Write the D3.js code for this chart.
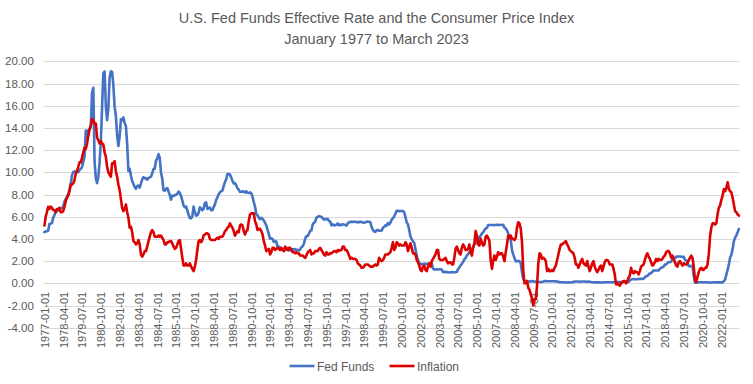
<!DOCTYPE html>
<html>
<head>
<meta charset="utf-8">
<script src="https://cdn.jsdelivr.net/npm/d3@7"></script>
<style>
  html, body { margin: 0; padding: 0; background: #fff; }
  svg { display: block; }
  text { font-family: "Liberation Sans", Arial, sans-serif; fill: #595959; }
</style>
</head>
<body>
<svg id="chart" width="753" height="384"></svg>
<script>
// ---------- DATA ----------
const startYear = 1977;           // first month: January 1977
const titleLines = ["U.S. Fed Funds Effective Rate and the Consumer Price Index", "January 1977 to March 2023"];
const seriesNames = ["Fed Funds", "Inflation"];

const fedFunds = [
  // 1977
  4.61, 4.68, 4.69, 4.73, 5.35, 5.39, 5.42, 5.90, 6.14, 6.47, 6.51, 6.56,
  // 1978
  6.70, 6.78, 6.79, 6.89, 7.36, 7.60, 7.81, 8.04, 8.45, 8.96, 9.76, 10.03,
  // 1979
  10.07, 10.06, 10.09, 10.01, 10.24, 10.29, 10.47, 10.94, 11.43, 13.77, 13.18, 13.78,
  // 1980
  13.82, 14.13, 17.19, 17.61, 10.98, 9.47, 9.03, 9.61, 10.87, 12.81, 15.85, 18.90,
  // 1981
  19.08, 15.93, 14.70, 15.72, 18.52, 19.10, 19.04, 17.82, 15.87, 15.08, 13.31, 12.37,
  // 1982
  13.22, 14.78, 14.68, 14.94, 14.45, 14.15, 12.59, 10.12, 10.31, 9.71, 9.20, 8.95,
  // 1983
  8.68, 8.51, 8.77, 8.80, 8.63, 8.98, 9.37, 9.56, 9.45, 9.48, 9.34, 9.47,
  // 1984
  9.56, 9.59, 9.91, 10.29, 10.32, 11.06, 11.23, 11.64, 11.30, 9.99, 9.43, 8.38,
  // 1985
  8.35, 8.50, 8.58, 8.27, 7.97, 7.53, 7.88, 7.90, 7.92, 7.99, 8.05, 8.27,
  // 1986
  8.14, 7.86, 7.48, 6.99, 6.85, 6.92, 6.56, 6.17, 5.89, 5.85, 6.04, 6.91,
  // 1987
  6.43, 6.10, 6.13, 6.37, 6.85, 6.73, 6.58, 6.73, 7.22, 7.29, 6.69, 6.77,
  // 1988
  6.83, 6.58, 6.58, 6.87, 7.09, 7.51, 7.75, 8.01, 8.19, 8.30, 8.35, 8.76,
  // 1989
  9.12, 9.36, 9.85, 9.84, 9.81, 9.53, 9.24, 8.99, 9.02, 8.84, 8.55, 8.45,
  // 1990
  8.23, 8.24, 8.28, 8.26, 8.18, 8.29, 8.15, 8.13, 8.20, 8.11, 7.81, 7.31,
  // 1991
  6.91, 6.25, 6.12, 5.91, 5.78, 5.90, 5.82, 5.66, 5.45, 5.21, 4.81, 4.43,
  // 1992
  4.03, 4.06, 3.98, 3.73, 3.82, 3.76, 3.25, 3.30, 3.22, 3.10, 3.09, 2.92,
  // 1993
  3.02, 3.03, 3.07, 2.96, 3.00, 3.04, 3.06, 3.03, 3.09, 2.99, 3.02, 2.96,
  // 1994
  3.05, 3.25, 3.34, 3.56, 4.01, 4.25, 4.26, 4.47, 4.73, 4.76, 5.29, 5.45,
  // 1995
  5.53, 5.92, 5.98, 6.05, 6.01, 6.00, 5.85, 5.74, 5.80, 5.76, 5.80, 5.60,
  // 1996
  5.56, 5.22, 5.31, 5.22, 5.24, 5.27, 5.40, 5.22, 5.30, 5.24, 5.31, 5.29,
  // 1997
  5.25, 5.19, 5.39, 5.51, 5.50, 5.56, 5.52, 5.54, 5.54, 5.50, 5.52, 5.50,
  // 1998
  5.56, 5.51, 5.49, 5.45, 5.49, 5.56, 5.54, 5.55, 5.51, 5.07, 4.83, 4.68,
  // 1999
  4.63, 4.76, 4.81, 4.74, 4.74, 4.76, 4.99, 5.07, 5.22, 5.20, 5.42, 5.30,
  // 2000
  5.45, 5.73, 5.85, 6.02, 6.27, 6.53, 6.54, 6.50, 6.52, 6.51, 6.51, 6.40,
  // 2001
  5.98, 5.49, 5.31, 4.80, 4.21, 3.97, 3.77, 3.65, 3.07, 2.49, 2.09, 1.82,
  // 2002
  1.73, 1.74, 1.73, 1.75, 1.75, 1.75, 1.73, 1.74, 1.75, 1.75, 1.34, 1.24,
  // 2003
  1.24, 1.26, 1.25, 1.26, 1.26, 1.22, 1.01, 1.03, 1.01, 1.01, 1.00, 0.98,
  // 2004
  1.00, 1.01, 1.00, 1.00, 1.00, 1.03, 1.26, 1.43, 1.61, 1.76, 1.93, 2.16,
  // 2005
  2.28, 2.50, 2.63, 2.79, 3.00, 3.04, 3.26, 3.50, 3.62, 3.78, 4.00, 4.16,
  // 2006
  4.29, 4.49, 4.59, 4.79, 4.94, 4.99, 5.24, 5.25, 5.25, 5.25, 5.25, 5.24,
  // 2007
  5.25, 5.26, 5.26, 5.25, 5.25, 5.25, 5.26, 5.02, 4.94, 4.76, 4.49, 4.24,
  // 2008
  3.94, 2.98, 2.61, 2.28, 1.98, 2.00, 2.01, 2.00, 1.81, 0.97, 0.39, 0.16,
  // 2009
  0.15, 0.22, 0.18, 0.15, 0.18, 0.21, 0.16, 0.16, 0.15, 0.12, 0.12, 0.12,
  // 2010
  0.11, 0.13, 0.16, 0.20, 0.20, 0.18, 0.18, 0.19, 0.19, 0.19, 0.19, 0.18,
  // 2011
  0.17, 0.16, 0.14, 0.10, 0.09, 0.09, 0.07, 0.10, 0.08, 0.07, 0.08, 0.07,
  // 2012
  0.08, 0.10, 0.13, 0.14, 0.16, 0.16, 0.16, 0.13, 0.14, 0.16, 0.16, 0.16,
  // 2013
  0.14, 0.15, 0.14, 0.15, 0.11, 0.09, 0.09, 0.08, 0.08, 0.09, 0.08, 0.09,
  // 2014
  0.07, 0.07, 0.08, 0.09, 0.09, 0.10, 0.09, 0.09, 0.09, 0.09, 0.09, 0.12,
  // 2015
  0.11, 0.11, 0.11, 0.12, 0.12, 0.13, 0.13, 0.14, 0.14, 0.12, 0.12, 0.24,
  // 2016
  0.34, 0.38, 0.36, 0.37, 0.37, 0.38, 0.39, 0.40, 0.40, 0.40, 0.41, 0.54,
  // 2017
  0.65, 0.66, 0.79, 0.90, 0.91, 1.04, 1.15, 1.16, 1.15, 1.15, 1.16, 1.30,
  // 2018
  1.41, 1.42, 1.51, 1.69, 1.70, 1.82, 1.91, 1.91, 1.95, 2.19, 2.20, 2.27,
  // 2019
  2.40, 2.40, 2.41, 2.42, 2.39, 2.38, 2.40, 2.13, 2.04, 1.83, 1.55, 1.55,
  // 2020
  1.55, 1.58, 0.65, 0.05, 0.05, 0.08, 0.09, 0.10, 0.09, 0.09, 0.09, 0.09,
  // 2021
  0.09, 0.08, 0.07, 0.07, 0.06, 0.08, 0.10, 0.09, 0.08, 0.08, 0.08, 0.08,
  // 2022
  0.08, 0.08, 0.20, 0.33, 0.77, 1.21, 1.68, 2.33, 2.56, 3.08, 3.78, 4.10,
  // 2023
  4.33, 4.60, 4.90
];

const inflation = [
  // 1977
  5.2, 6.0, 6.4, 6.9, 6.7, 6.9, 6.8, 6.6, 6.6, 6.4, 6.7, 6.7,
  // 1978
  6.8, 6.4, 6.4, 6.5, 6.9, 7.4, 7.7, 7.9, 8.3, 8.9, 8.9, 9.0,
  // 1979
  9.3, 9.9, 10.1, 10.5, 10.9, 10.9, 11.3, 11.8, 12.2, 12.1, 12.6, 13.3,
  // 1980
  13.9, 14.2, 14.8, 14.7, 14.4, 14.4, 13.1, 12.9, 12.6, 12.8, 12.6, 12.5,
  // 1981
  11.8, 11.4, 10.5, 10.0, 9.8, 9.6, 10.8, 10.8, 11.0, 10.1, 9.6, 8.9,
  // 1982
  8.4, 7.6, 6.8, 6.5, 6.7, 7.1, 6.4, 5.9, 5.0, 5.1, 4.6, 3.8,
  // 1983
  3.7, 3.5, 3.6, 3.9, 3.5, 2.6, 2.4, 2.6, 2.9, 2.9, 3.3, 3.8,
  // 1984
  4.2, 4.6, 4.8, 4.6, 4.2, 4.2, 4.2, 4.3, 4.2, 4.3, 4.1, 3.9,
  // 1985
  3.5, 3.5, 3.7, 3.7, 3.8, 3.8, 3.6, 3.3, 3.1, 3.2, 3.5, 3.8,
  // 1986
  3.9, 3.1, 2.3, 1.6, 1.6, 1.8, 1.6, 1.6, 1.8, 1.5, 1.3, 1.1,
  // 1987
  1.5, 2.1, 3.0, 3.8, 3.9, 3.7, 3.9, 4.3, 4.4, 4.5, 4.5, 4.4,
  // 1988
  4.0, 3.9, 3.9, 3.9, 3.9, 4.0, 4.1, 4.0, 4.2, 4.2, 4.2, 4.4,
  // 1989
  4.7, 4.8, 5.0, 5.1, 5.4, 5.2, 5.0, 4.7, 4.3, 4.5, 4.7, 4.6,
  // 1990
  5.2, 5.3, 5.2, 4.7, 4.4, 4.7, 4.8, 5.6, 6.2, 6.3, 6.3, 6.3,
  // 1991
  5.6, 5.3, 4.8, 4.9, 4.9, 4.7, 4.4, 3.8, 3.4, 2.9, 3.0, 3.1,
  // 1992
  2.6, 2.8, 3.2, 3.2, 3.0, 3.1, 3.2, 3.1, 3.0, 3.2, 3.0, 2.9,
  // 1993
  3.3, 3.2, 3.0, 3.2, 3.2, 3.0, 2.8, 2.8, 2.7, 2.8, 2.7, 2.7,
  // 1994
  2.5, 2.5, 2.5, 2.4, 2.3, 2.5, 2.8, 2.9, 3.0, 2.6, 2.7, 2.7,
  // 1995
  2.9, 2.9, 2.9, 3.1, 3.2, 3.0, 2.8, 2.6, 2.5, 2.8, 2.6, 2.6,
  // 1996
  2.7, 2.7, 2.8, 2.9, 2.9, 2.8, 3.0, 2.9, 3.0, 3.0, 3.3, 3.3,
  // 1997
  3.0, 3.0, 2.8, 2.5, 2.2, 2.3, 2.2, 2.2, 2.2, 2.1, 1.8, 1.7,
  // 1998
  1.6, 1.4, 1.4, 1.5, 1.7, 1.7, 1.7, 1.6, 1.5, 1.5, 1.5, 1.6,
  // 1999
  1.7, 1.6, 1.7, 2.3, 2.1, 2.0, 2.1, 2.3, 2.6, 2.6, 2.6, 2.7,
  // 2000
  2.8, 3.2, 3.7, 3.0, 3.2, 3.7, 3.6, 3.4, 3.5, 3.4, 3.4, 3.4,
  // 2001
  3.7, 3.5, 2.9, 3.3, 3.6, 3.2, 2.7, 2.7, 2.6, 2.1, 1.9, 1.6,
  // 2002
  1.2, 1.1, 1.5, 1.6, 1.2, 1.1, 1.5, 1.8, 1.5, 2.0, 2.2, 2.4,
  // 2003
  2.6, 3.0, 3.0, 2.2, 2.1, 2.1, 2.1, 2.2, 2.3, 2.0, 1.8, 1.9,
  // 2004
  1.9, 1.7, 1.7, 2.3, 3.1, 3.3, 3.0, 2.7, 2.6, 3.2, 3.5, 3.3,
  // 2005
  3.0, 3.0, 3.1, 3.5, 2.8, 2.5, 3.2, 3.6, 4.7, 4.3, 3.5, 3.4,
  // 2006
  4.0, 3.7, 3.4, 3.5, 4.2, 4.3, 4.1, 3.8, 2.1, 1.3, 2.0, 2.5,
  // 2007
  2.1, 2.4, 2.8, 2.6, 2.7, 2.7, 2.4, 2.0, 2.8, 3.5, 4.3, 4.1,
  // 2008
  4.3, 4.0, 4.0, 3.9, 4.1, 5.0, 5.5, 5.4, 4.9, 3.7, 1.1, 0.0,
  // 2009
  0.0, 0.2, -0.4, -0.6, -1.0, -1.4, -2.0, -1.5, -1.4, -0.2, 1.8, 2.7,
  // 2010
  2.6, 2.2, 2.3, 2.2, 2.0, 1.1, 1.3, 1.1, 1.1, 1.2, 1.1, 1.4,
  // 2011
  1.6, 2.1, 2.6, 3.1, 3.5, 3.5, 3.6, 3.7, 3.8, 3.5, 3.3, 3.0,
  // 2012
  2.9, 2.8, 2.7, 2.3, 1.7, 1.7, 1.4, 1.7, 2.0, 2.2, 1.8, 1.7,
  // 2013
  1.6, 2.0, 1.5, 1.1, 1.4, 1.8, 2.0, 1.5, 1.2, 1.0, 1.2, 1.5,
  // 2014
  1.6, 1.1, 1.5, 1.9, 2.1, 2.1, 2.0, 1.7, 1.7, 1.7, 1.3, 0.8,
  // 2015
  -0.1, 0.0, -0.1, -0.2, 0.0, 0.1, 0.2, 0.2, 0.0, 0.2, 0.5, 0.7,
  // 2016
  1.4, 1.0, 0.9, 1.1, 1.0, 1.0, 0.8, 1.1, 1.5, 1.6, 1.7, 2.1,
  // 2017
  2.5, 2.7, 2.4, 2.2, 1.9, 1.6, 1.7, 1.9, 2.2, 2.0, 2.2, 2.1,
  // 2018
  2.1, 2.2, 2.4, 2.5, 2.8, 2.9, 2.9, 2.7, 2.3, 2.5, 2.2, 1.9,
  // 2019
  1.6, 1.5, 1.9, 2.0, 1.8, 1.6, 1.8, 1.7, 1.7, 1.8, 2.1, 2.3,
  // 2020
  2.5, 2.3, 1.5, 0.3, 0.1, 0.6, 1.0, 1.3, 1.4, 1.2, 1.2, 1.4,
  // 2021
  1.4, 1.7, 2.6, 4.2, 5.0, 5.4, 5.4, 5.3, 5.4, 6.2, 6.8, 7.0,
  // 2022
  7.5, 7.9, 8.5, 8.3, 8.6, 9.1, 8.5, 8.3, 8.2, 7.7, 7.1, 6.5,
  // 2023
  6.4, 6.2, 6.1
];

const yTicks = [-4, -2, 0, 2, 4, 6, 8, 10, 12, 14, 16, 18, 20];
const tickLabels = [
  "1977-01-01","1978-04-01","1979-07-01","1980-10-01","1982-01-01","1983-04-01",
  "1984-07-01","1985-10-01","1987-01-01","1988-04-01","1989-07-01","1990-10-01",
  "1992-01-01","1993-04-01","1994-07-01","1995-10-01","1997-01-01","1998-04-01",
  "1999-07-01","2000-10-01","2002-01-01","2003-04-01","2004-07-01","2005-10-01",
  "2007-01-01","2008-04-01","2009-07-01","2010-10-01","2012-01-01","2013-04-01",
  "2014-07-01","2015-10-01","2017-01-01","2018-04-01","2019-07-01","2020-10-01",
  "2022-01-01"
];

// categories: one per month
const fmtMonth = d3.timeFormat("%Y-%m-%d");
const categories = d3.range(fedFunds.length).map(i => fmtMonth(new Date(startYear, i, 1)));

// ---------- LAYOUT ----------
const svg = d3.select("#chart");
const plot = { left: 43.8, right: 739.5, top: 61.3, bottom: 327.7 };
const colors = { fed: "#4472C4", infl: "#DD0000", grid: "#D9D9D9", text: "#595959" };

const x = d3.scalePoint().domain(categories).range([plot.left, plot.right]).padding(0.5);
const y = d3.scaleLinear().domain([-4, 20]).range([plot.bottom, plot.top]);

// title
svg.append("g").selectAll("text").data(titleLines).join("text")
  .attr("x", 376.5).attr("y", (d, i) => 23 + i * 20.5)
  .attr("text-anchor", "middle").style("font-size", "14.5px")
  .text(d => d);

// gridlines
svg.append("g").selectAll("line").data(yTicks).join("line")
  .attr("x1", plot.left).attr("x2", plot.right)
  .attr("y1", d => Math.round(y(d)) + 0.5).attr("y2", d => Math.round(y(d)) + 0.5)
  .attr("stroke", colors.grid).attr("stroke-width", 1);

// y axis
const yAxis = svg.append("g").attr("transform", `translate(${plot.left},0)`)
  .call(d3.axisLeft(y).tickValues(yTicks).tickSize(0).tickPadding(10).tickFormat(d => d.toFixed(2)));
yAxis.select(".domain").remove();
yAxis.selectAll("text").style("font-size", "11.5px").attr("fill", colors.text)
  .style("font-family", "'Liberation Sans', Arial, sans-serif");

// x axis
const xAxis = svg.append("g").attr("transform", `translate(0,${y(0)})`)
  .call(d3.axisBottom(x).tickValues(tickLabels).tickSize(0));
xAxis.select(".domain").remove();
xAxis.selectAll("text")
  .attr("transform", "rotate(-90)")
  .attr("x", -8.5).attr("y", 0).attr("dy", "0.35em")
  .attr("text-anchor", "end")
  .attr("fill", colors.text)
  .style("font-size", "11px")
  .style("font-family", "'Liberation Sans', Arial, sans-serif");

// lines
const line = d3.line().x((d, i) => x(categories[i])).y(d => y(d));
svg.append("path").datum(fedFunds).attr("d", line)
  .attr("fill", "none").attr("stroke", colors.fed).attr("stroke-width", 2.6)
  .attr("stroke-linejoin", "round").attr("stroke-linecap", "round");
svg.append("path").datum(inflation).attr("d", line)
  .attr("fill", "none").attr("stroke", colors.infl).attr("stroke-width", 2.6)
  .attr("stroke-linejoin", "round").attr("stroke-linecap", "round");

// legend
const legend = svg.append("g");
const legendItems = [
  { name: seriesNames[0], color: colors.fed, x: 289.5 },
  { name: seriesNames[1], color: colors.infl, x: 389.5 }
];
legendItems.forEach(it => {
  legend.append("line").attr("x1", it.x).attr("x2", it.x + 25)
    .attr("y1", 366).attr("y2", 366)
    .attr("stroke", it.color).attr("stroke-width", 2.6);
  legend.append("text").attr("x", it.x + 27.5).attr("y", 370.5)
    .style("font-size", "12px").text(it.name);
});
</script>
</body>
</html>
